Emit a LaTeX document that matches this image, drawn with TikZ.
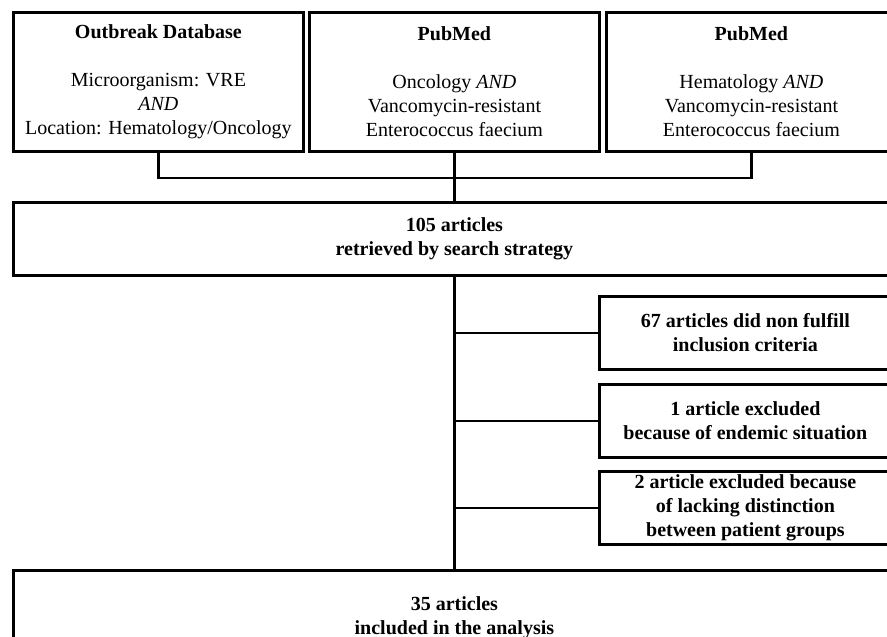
\documentclass[tikz,border=0pt]{standalone}
\usepackage{fontspec}
\setmainfont{Liberation Serif}
\usetikzlibrary{positioning}

\begin{document}
\begin{tikzpicture}[x=0.5pt, y=-0.5pt,
        srcbox/.style={draw, line width=1.4pt, align=center, anchor=north west, inner sep=0pt, minimum width=145pt, minimum height=69.5pt},
        stepbox/.style={draw, line width=1.4pt, align=center, anchor=north west, inner sep=0pt, font=\bfseries, minimum width=441pt, minimum height=36.5pt},
        exclbox/.style={stepbox, minimum width=146pt},
        link/.style={line width=1.4pt}]
        \useasboundingbox (0,0) rectangle (887,636);
        \clip (0,0) rectangle (887,636);

        % Search sources
        \node[srcbox] (outbreak) at (12,11) {\textbf{Outbreak Database}\\[12pt]Microorganism: VRE\\\textit{AND}\\Location: Hematology/Oncology};
        \node[srcbox] (oncol) at (308,11) {\textbf{PubMed}\\[12pt]Oncology \textit{AND}\\Vancomycin-resistant\\Enterococcus faecium};
        \node[srcbox] (hemat) at (605,11) {\textbf{PubMed}\\[12pt]Hematology \textit{AND}\\Vancomycin-resistant\\Enterococcus faecium};

        % Retrieved and included
        \node[stepbox] (found) at (12,201) {105 articles\\retrieved by search strategy};
        \node[stepbox, minimum height=47.5pt] (final) at (12,569) {35 articles\\included in the analysis};

        % Exclusions
        \node[exclbox] (excl1) at (598,295) {67 articles did non fulfill\\inclusion criteria};
        \node[exclbox] (excl2) at (598,383) {1 article excluded\\because of endemic situation};
        \node[exclbox] (excl3) at (598,470) {2 article excluded because\\of lacking distinction\\between patient groups};

        % Connectors
        \coordinate (merge) at (oncol.south |- 0,178);
        \draw[link] (outbreak.south) |- (merge);
        \draw[link] (hemat.south) |- (merge);
        \draw[link] (oncol.south) -- (merge) -- (found.north);
        \draw[link] (found.south) -- (final.north);
        \foreach \n in {excl1,excl2,excl3}
            \draw[link] (\n.west) -- (\n.west -| found.south);
    \end{tikzpicture}
\end{document}
